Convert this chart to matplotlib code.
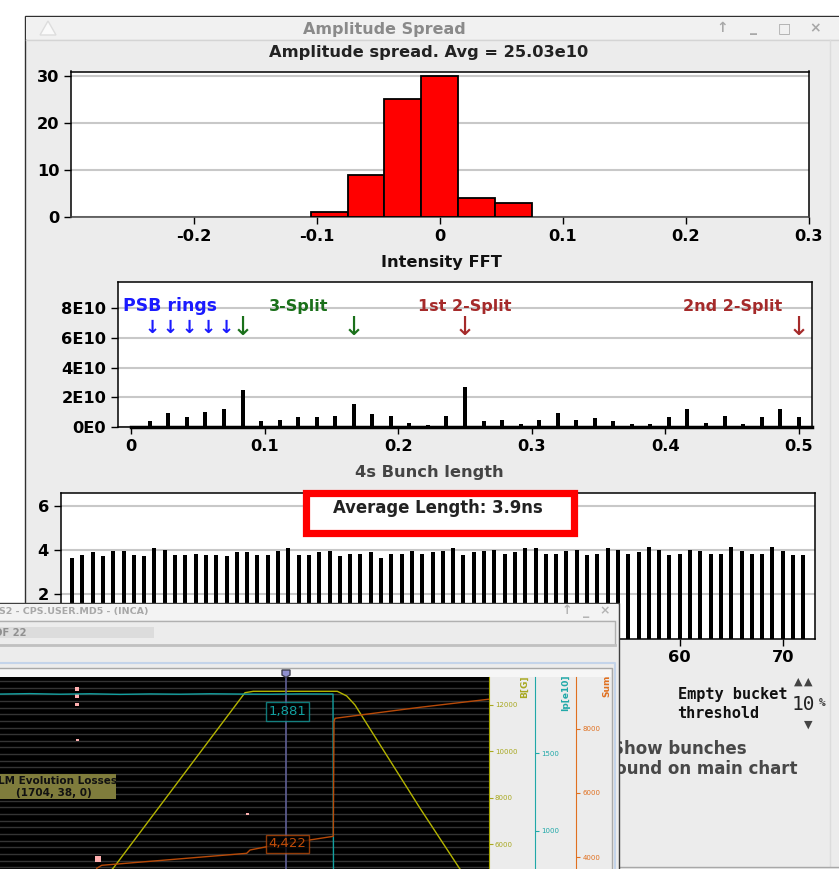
import numpy as np
import matplotlib
matplotlib.use('Agg')
import matplotlib.pyplot as plt
from matplotlib.patches import Rectangle, Polygon

W, H = 839, 869
FS = 11.7

# amplitude histogram
hist_centers = [-0.09, -0.06, -0.03, 0.0, 0.03, 0.06]
hist_counts = [1, 9, 25, 30, 4, 3]

# bunch length FFT, harmonics of 1/72
fft_bins = list(range(1, 37))
fft_values = [0.42, 0.95, 0.69, 1.04, 1.22, 2.47, 0.42, 0.51, 0.69, 0.69, 0.78, 1.58,
              0.87, 0.78, 0.33, 0.16, 0.78, 2.73, 0.42, 0.51, 0.24, 0.51, 0.95, 0.51,
              0.60, 0.42, 0.24, 0.24, 0.69, 1.22, 0.33, 0.78, 0.24, 0.69, 1.22, 0.69]
psb_marks = [0.0153, 0.0292, 0.0432, 0.0572, 0.0712]
split3_marks = [0.0833, 0.1667]
split2_marks = [0.25, 0.5]

# bunch lengths
bunch_numbers = list(range(1, 73))
bunch_lengths = [3.67, 3.79, 3.91, 3.73, 3.97, 3.97, 3.79, 3.73, 4.09, 4.03, 3.79, 3.79,
                 3.85, 3.79, 3.79, 3.73, 3.91, 3.91, 3.79, 3.79, 3.97, 4.09, 3.79, 3.79,
                 3.91, 3.97, 3.73, 3.85, 3.85, 3.91, 3.67, 3.85, 3.85, 3.97, 3.85, 3.91,
                 3.97, 4.09, 3.79, 3.91, 3.97, 4.03, 3.85, 3.91, 4.09, 4.09, 3.85, 3.85,
                 3.97, 4.03, 3.79, 3.85, 4.09, 4.03, 3.85, 3.91, 4.15, 4.03, 3.79, 3.85,
                 4.03, 3.97, 3.85, 3.85, 4.15, 3.97, 3.85, 3.85, 4.15, 3.97, 3.79, 3.79]

# INCA window traces (time axis is arbitrary)
b_time = [100, 113.3, 245, 253.3, 337.3, 346.7, 355, 363.3, 420, 459.3, 470]
b_field = [4400, 4961, 12530, 12590, 12590, 12388, 12000, 11427, 7547, 4961, 4400]
ip_time = [0, 30, 60, 90, 120, 150, 180, 210, 240, 270, 300, 333, 333.5]
ip_values = [1881, 1884, 1880, 1883, 1879, 1882, 1880, 1883, 1881, 1880, 1882, 1881, 700]
sum_time = [96.7, 101.7, 246.7, 250, 266.7, 333.3, 334, 335, 420, 488.3]
sum_values = [3648, 3741, 4115, 4218, 4321, 4645, 8218, 8324, 8667, 8917]
loss_time = [77, 77, 77, 77.5, 247.5, 98]
loss_field = [12690, 12400, 12017, 10491, 7302, 5362]
loss_size = [9, 9, 6, 3, 3, 16]


def px_axes(left, top, right, bottom, **kw):
    return fig.add_axes([left / W, 1 - bottom / H, (right - left) / W, (bottom - top) / H], **kw)


def overlay(z):
    a = fig.add_axes([0, 0, 1, 1], zorder=z)
    a.set_xlim(0, W)
    a.set_ylim(H, 0)
    a.axis('off')
    a.patch.set_alpha(0)
    return a


def style_chart(a):
    a.set_zorder(2)
    a.set_axisbelow(True)
    a.grid(axis='y', color='#c8c8c8', lw=1.5)
    a.tick_params(length=5, width=1, labelsize=FS, pad=3.5)
    for lab in a.get_xticklabels() + a.get_yticklabels():
        lab.set_fontweight('bold')
    for s in a.spines.values():
        s.set_linewidth(1.1)


fig = plt.figure(figsize=(W / 100, H / 100), dpi=100, facecolor='white')

# main window background
back = overlay(0)
back.add_patch(Rectangle((25, 16), 820, 860, fc='#ececec', ec='#303030', lw=1))
back.add_patch(Rectangle((26, 17), 820, 22, fc='#f1f1f1', ec='none'))
back.plot([26, 839], [39.5, 39.5], color='#d4d4d4', lw=1)
back.plot([830, 830], [40, 866], color='#dcdcdc', lw=1)
back.plot([619, 839], [866.5, 866.5], color='#a8a8a8', lw=1)
back.add_patch(Polygon([[40, 35], [48, 21], [56, 35]], fc='#fafafa', ec='#dddddd', lw=1))
back.text(384, 29.5, 'Amplitude Spread', ha='center', va='center', fontsize=11.5,
          fontweight='bold', color='#8a8a8a')
for x, s in zip([722, 753, 784, 815], ['↑', '_', '□', '×']):
    back.text(x, 28, s, ha='center', va='center', fontsize=10, fontweight='bold', color='#a8a8a8')
back.text(429, 52, 'Amplitude spread. Avg = 25.03e10', ha='center', va='center', fontsize=FS,
          fontweight='bold', color='#222222')
back.text(441, 262, 'Intensity FFT', ha='center', va='center', fontsize=FS,
          fontweight='bold', color='#111111')
back.text(429, 473, '4s Bunch length', ha='center', va='center', fontsize=FS,
          fontweight='bold', color='#444444')

# histogram
ax1 = px_axes(71, 71.5, 808.5, 217)
ax1.bar(hist_centers, hist_counts, width=0.03, color='#ff0000', edgecolor='black', lw=1.3, zorder=3)
ax1.set_xlim(-0.3, 0.3)
ax1.set_ylim(0, 30.9)
ax1.set_xticks([-0.2, -0.1, 0, 0.1, 0.2, 0.3])
ax1.set_xticklabels(['-0.2', '-0.1', '0', '0.1', '0.2', '0.3'])
ax1.set_yticks([0, 10, 20, 30])
style_chart(ax1)
ax1.spines['bottom'].set_color('#444444')

# FFT
ax2 = px_axes(118, 282, 812, 427.5)
ax2.bar(np.array(fft_bins) / 72, np.array(fft_values) * 1e10, width=0.003, color='black', zorder=3)
ax2.plot([0, 0.51], [0, 0], color='black', lw=2.5, zorder=3, clip_on=False)
ax2.set_xlim(-0.01, 0.51)
ax2.set_ylim(0, 9.7e10)
ax2.set_xticks([0, 0.1, 0.2, 0.3, 0.4, 0.5])
ax2.set_xticklabels(['0', '0.1', '0.2', '0.3', '0.4', '0.5'])
ax2.set_yticks([0, 2e10, 4e10, 6e10, 8e10])
ax2.set_yticklabels(['0E0', '2E10', '4E10', '6E10', '8E10'])
style_chart(ax2)
ax2.text(-0.006, 8.07e10, 'PSB rings', color='#1a1aff', fontsize=12.4, fontweight='bold', va='center')
ax2.text(0.1256, 8.07e10, '3-Split', color='#1a701a', fontsize=11.5, fontweight='bold', va='center', ha='center')
ax2.text(0.25, 8.07e10, '1st 2-Split', color='#a52a2a', fontsize=11.5, fontweight='bold', va='center', ha='center')
ax2.text(0.4506, 8.07e10, '2nd 2-Split', color='#a52a2a', fontsize=11.5, fontweight='bold', va='center', ha='center')
for x in psb_marks:
    ax2.text(x, 6.65e10, '↓', color='#1a1aff', fontsize=13, fontweight='bold', ha='center', va='center')
for x in split3_marks:
    ax2.text(x, 6.65e10, '↓', color='#1a701a', fontsize=19, ha='center', va='center')
for x in split2_marks:
    ax2.text(x, 6.65e10, '↓', color='#a52a2a', fontsize=19, ha='center', va='center')

# bunch lengths
ax3 = px_axes(60.7, 493, 814.7, 638.5)
ax3.bar(bunch_numbers, bunch_lengths, width=0.39, color='black', zorder=3)
ax3.set_xlim(-0.1, 73.1)
ax3.set_ylim(0, 6.6)
ax3.set_xticks([60, 70])
ax3.set_yticks([2, 4, 6])
style_chart(ax3)

# text on the right of the main window, part of it sits under the INCA window
back.text(788, 694, 'Empty bucket', ha='right', va='center', family='DejaVu Sans Mono',
          fontsize=11, fontweight='bold', color='#111111')
back.text(677, 713, 'threshold', ha='left', va='center', family='DejaVu Sans Mono',
          fontsize=11, fontweight='bold', color='#111111')
back.text(798, 682, '▲', ha='center', va='center', fontsize=8, color='#444444')
back.text(808, 682, '▲', ha='center', va='center', fontsize=8, color='#444444')
back.text(808, 725, '▼', ha='center', va='center', fontsize=8, color='#444444')
back.text(803, 705, '10', ha='center', va='center', family='DejaVu Sans Mono', fontsize=14, color='#222222')
back.text(822, 703, '%', ha='center', va='center', family='DejaVu Sans Mono', fontsize=8,
          fontweight='bold', color='#444444')
back.text(747, 749.5, 'Show bunches', ha='right', va='center', fontsize=12, fontweight='bold', color='#484848')
back.text(798, 769.5, 'found on main chart', ha='right', va='center', fontsize=12, fontweight='bold', color='#484848')

# red box and INCA window frame
mid = overlay(3)
mid.add_patch(Rectangle((305.5, 492.5), 268, 40, fc='white', ec='#ff0000', lw=5.2))
mid.text(438, 508, 'Average Length: 3.9ns', ha='center', va='center', fontsize=11.9,
         fontweight='bold', color='#222222')
mid.add_patch(Rectangle((-5, 603), 624, 280, fc='#ececec', ec='#404040', lw=1))
mid.add_patch(Rectangle((-5, 604), 623, 16, fc='#f3f3f3', ec='none'))
mid.plot([0, 614.5, 614.5], [620.5, 620.5, 645], color='#b0b0b0', lw=1)
mid.plot([0, 614.5], [645, 645], color='#c0c0c0', lw=2)
mid.add_patch(Rectangle((0, 627), 154, 11, fc='#dcdcdc', ec='none'))
mid.text(148.5, 611.5, 'S2 - CPS.USER.MD5 - (INCA)', ha='right', va='center', fontsize=6.8,
         fontweight='bold', color='#a8a8a8', clip_on=True)
mid.text(27, 632.5, 'OF 22', ha='right', va='center', fontsize=7.2, fontweight='bold', color='#909090',
         clip_on=True)
for x, s in zip([567, 586, 605], ['↑', '_', '×']):
    mid.text(x, 611, s, ha='center', va='center', fontsize=9, fontweight='bold', color='#b4b4b4')
mid.plot([0, 614.5, 614.5], [662.5, 662.5, 869], color='#c4d4ea', lw=1.5)
mid.plot([0, 611.5, 611.5], [667.5, 667.5, 869], color='#a8a8a8', lw=1)
mid.add_patch(Rectangle((0, 668), 611, 9, fc='#f6f6f6', ec='none'))

# INCA plot
ax_b = px_axes(0, 677.3, 488.5, 869, zorder=4, facecolor='black')
ax_b.set_xlim(0, 488.5)
ax_b.set_ylim(4922, 13194)
ax_b.set_yticks(np.arange(5000, 13194, 287), minor=True)
ax_b.grid(which='minor', axis='y', color='#343434', lw=1)
ax_b.set_axisbelow(True)
ax_b.set_yticks([6000, 8000, 10000, 12000])
ax_b.set_xticks([])
for s in ['left', 'top', 'bottom']:
    ax_b.spines[s].set_visible(False)
ax_b.spines['right'].set_color('#a8a800')
ax_b.plot(b_time, b_field, color='#b4b400', lw=1, zorder=3)
ax_b.axvline(286.3, color='#5f5f96', lw=1.2, zorder=5)
ax_b.scatter(loss_time, loss_field, s=loss_size, marker='s', color='#ffb0b0', lw=0, zorder=4)

ax_ip = ax_b.twinx()
ax_ip.set_zorder(5)
ax_ip.set_ylim(755, 1989)
ax_ip.set_yticks([1000, 1500])
ax_ip.spines['right'].set_position(('outward', 33.3))
ax_ip.spines['right'].set_color('#20a8a8')
ax_ip.tick_params(axis='y', colors='#20a8a8', labelsize=5, length=3, width=0.8, pad=1.5)
ax_ip.plot(ip_time, ip_values, color='#12a0a0', lw=1)

ax_sum = ax_b.twinx()
ax_sum.set_zorder(6)
ax_sum.set_ylim(3626, 9602)
ax_sum.set_yticks([4000, 6000, 8000])
ax_sum.spines['right'].set_position(('outward', 63.2))
ax_sum.spines['right'].set_color('#e07020')
ax_sum.tick_params(axis='y', colors='#e07020', labelsize=5, length=3, width=0.8, pad=1.5)
ax_sum.plot(sum_time, sum_values, color='#b84a08', lw=1)
for a in (ax_ip, ax_sum):
    for s in ['left', 'top', 'bottom']:
        a.spines[s].set_visible(False)

# twinx moves the ticks of the host axes to the left, put them back
ax_b.yaxis.tick_right()
ax_b.tick_params(which='minor', length=0)
ax_b.tick_params(axis='y', which='major', colors='#a8a820', labelsize=5, length=3, width=0.8, pad=1.5)

top = overlay(7)
top.add_patch(Polygon([[282, 670], [290, 670], [290, 675], [286, 677.5], [282, 675]],
                      fc='#8f8fd0', ec='#404050', lw=1))
top.text(287.5, 711.5, '1,881', ha='center', va='center', fontsize=9.5, color='#12a0a0',
         bbox=dict(boxstyle='square,pad=0.22', fc='#000000', ec='#12a0a0', lw=1, alpha=0.75))
top.text(287.5, 844, '4,422', ha='center', va='center', fontsize=9.5, color='#c04c08',
         bbox=dict(boxstyle='square,pad=0.22', fc='#000000', ec='#c04c08', lw=1, alpha=0.75))
top.add_patch(Rectangle((-2, 774), 118, 24.5, fc='#7f7c3c', ec='none'))
top.text(54, 781, 'BLM Evolution Losses', ha='center', va='center', fontsize=7.5,
         fontweight='bold', color='#111111')
top.text(54, 793, '(1704, 38, 0)', ha='center', va='center', fontsize=7.5,
         fontweight='bold', color='#111111')
top.text(524, 687, 'B[G]', rotation=90, ha='center', va='center', fontsize=6.5,
         fontweight='bold', color='#a8a820')
top.text(565.7, 692.5, 'Ip[e10]', rotation=90, ha='center', va='center', fontsize=6.5,
         fontweight='bold', color='#20a8a8')
top.text(607, 686, 'Sum', rotation=90, ha='center', va='center', fontsize=6.5,
         fontweight='bold', color='#e07020')

fig.savefig('out.png', dpi=100)
